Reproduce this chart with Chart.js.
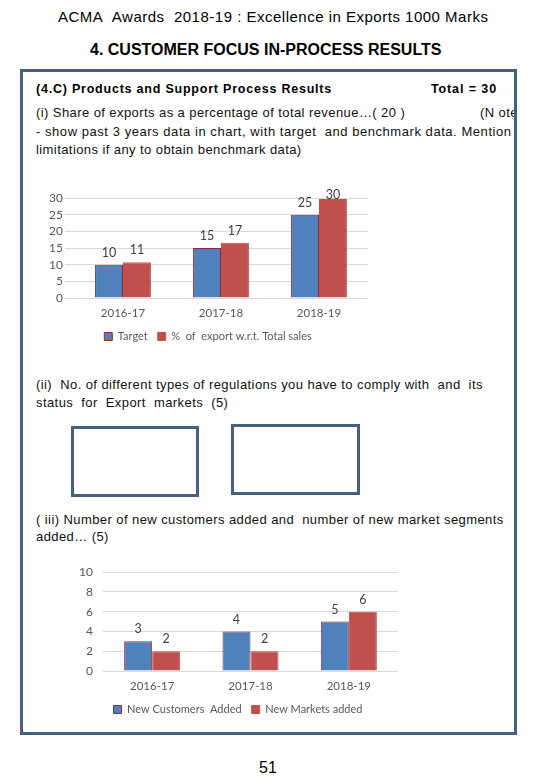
<!DOCTYPE html>
<html>
<head>
<meta charset="utf-8">
<script src="https://cdn.jsdelivr.net/npm/chart.js@4.4.0/dist/chart.umd.min.js"></script>
<style>
  html, body { margin: 0; padding: 0; background: #fff; }
  body { width: 540px; height: 780px; position: relative; overflow: hidden;
         font-family: "Liberation Sans", Arial, sans-serif; color: #000; }
  .t { position: absolute; white-space: nowrap; line-height: 1; }
  .p { font-size: 13px; letter-spacing: 0.42px; color: #111; }
  .box { position: absolute; border: 3px solid #46607f; box-sizing: border-box; }
  .cv { position: absolute; }
</style>
</head>
<body>
<div class="t" style="left:58px;top:9px;font-size:15px;letter-spacing:0.5px;">ACMA&nbsp; Awards&nbsp; 2018-19 : Excellence in Exports 1000 Marks</div>
<div class="t" style="left:90px;top:42px;font-size:16px;font-weight:bold;">4. CUSTOMER FOCUS IN-PROCESS RESULTS</div>

<div class="t" style="left:36px;top:83px;font-size:12.5px;font-weight:bold;letter-spacing:0.78px;">(4.C) Products and Support Process Results</div>
<div class="t" style="right:43px;top:83px;font-size:12.5px;font-weight:bold;letter-spacing:0.9px;">Total = 30</div>

<div class="t p" style="left:36px;top:106px;">(i) Share of exports as a percentage of total revenue…( 20 )</div>
<div class="t p" style="left:480px;top:106px;">(N ote</div>
<div class="t p" style="left:36px;top:125px;letter-spacing:0.55px;">- show past 3 years data in chart, with target&nbsp; and benchmark data. Mention</div>
<div class="t p" style="left:36px;top:143px;">limitations if any to obtain benchmark data)</div>

<div class="box" style="left:20px;top:69px;width:497px;height:666px;"></div>

<canvas id="chart1" class="cv" style="left:30px;top:180px;"></canvas>

<div class="t p" style="left:36px;top:378px;">(ii)&nbsp; No. of different types of regulations you have to comply with&nbsp; and&nbsp; its</div>
<div class="t p" style="left:36px;top:396px;">status&nbsp; for&nbsp; Export&nbsp; markets&nbsp; (5)</div>

<div class="box" style="left:71px;top:426px;width:128px;height:71px;"></div>
<div class="box" style="left:231px;top:424px;width:129px;height:71px;"></div>

<div class="t p" style="left:36px;top:513px;">( iii) Number of new customers added and&nbsp; number of new market segments</div>
<div class="t p" style="left:36px;top:530px;">added… (5)</div>

<canvas id="chart2" class="cv" style="left:60px;top:555px;"></canvas>

<div class="t" style="left:259px;top:760px;font-size:16px;">51</div>

<script>
// shared categories
const years = ['2016-17', '2017-18', '2018-19'];

// chart (i): share of exports
const exportTarget = [10, 15, 25];
const exportShare = [10.7, 16.6, 29.7];
const exportTicks = [0, 5, 10, 15, 20, 25, 30];

// chart (iii): customers / markets
const newCustomers = [3, 4, 5];
const newMarkets = [2, 2, 6];
const countTicks = [0, 2, 4, 6, 8, 10];

const BLUE = '#4f81bd';
const RED = '#c0504d';
const EDGE = '#8c2a3a';
const GREY = '#595959';
const GRID = '#d9d9d9';
const FONT = 'Lato, "Open Sans", sans-serif';

Chart.defaults.font.family = FONT;
Chart.defaults.color = GREY;
Chart.defaults.animation = false;

// values printed above each bar (rounded like the source)
const barLabels = {
  id: 'barLabels',
  afterDatasetsDraw(chart) {
    const ctx = chart.ctx;
    ctx.save();
    ctx.font = '12.5px ' + FONT;
    ctx.fillStyle = '#404040';
    ctx.textAlign = 'center';
    ctx.textBaseline = 'middle';
    chart.data.datasets.forEach((ds, i) => {
      chart.getDatasetMeta(i).data.forEach((bar, j) => {
        const y = Math.max(bar.y - 12, chart.chartArea.top - 3);
        ctx.fillText(String(Math.round(ds.data[j])), bar.x, y);
      });
    });
    ctx.restore();
  }
};

function makeChart(id, w, h, sets, ticks, pad, axisW, tickLen) {
  const el = document.getElementById(id);
  el.width = w; el.height = h;
  el.style.width = w + 'px'; el.style.height = h + 'px';
  return new Chart(el, {
    type: 'bar',
    data: {
      labels: years,
      datasets: sets.map(s => ({
        label: s.label,
        data: s.data,
        backgroundColor: s.color,
        borderColor: s.edge,
        borderWidth: 1,
        categoryPercentage: 0.57,
        barPercentage: 1.0
      }))
    },
    options: {
      responsive: false,
      devicePixelRatio: 1,
      layout: { padding: pad },
      plugins: {
        tooltip: { enabled: false },
        legend: {
          position: 'bottom',
          labels: { boxWidth: 8, boxHeight: 8, padding: 10, font: { size: 11 }, color: GREY }
        }
      },
      scales: {
        x: {
          grid: { display: false, drawTicks: false },
          border: { display: false },
          ticks: { font: { size: 11.5 }, color: GREY, padding: 8 },
          afterFit: s => { s.height = 23; }
        },
        y: {
          min: ticks[0],
          max: ticks[ticks.length - 1],
          afterBuildTicks: s => { s.ticks = ticks.map(v => ({ value: v })); },
          grid: { color: GRID, tickColor: GRID, tickLength: tickLen, drawTicks: tickLen > 0 },
          border: { display: false },
          ticks: { font: { size: 12 }, color: GREY, padding: tickLen > 0 ? 2 : 10, autoSkip: false },
          afterFit: s => { s.width = axisW; }
        }
      }
    },
    plugins: [barLabels]
  });
}

makeChart('chart1', 350, 172, [
  { label: 'Target', data: exportTarget, color: BLUE, edge: EDGE },
  { label: '%  of  export w.r.t. Total sales', data: exportShare, color: RED, edge: RED }
], exportTicks, { left: 18, right: 12, top: 18, bottom: 0 }, 26, 9);

makeChart('chart2', 350, 170, [
  { label: 'New Customers  Added', data: newCustomers, color: BLUE, edge: EDGE },
  { label: 'New Markets added', data: newMarkets, color: RED, edge: RED }
], countTicks, { left: 18, right: 12, top: 15, bottom: 0 }, 25, 0);
</script>
</body>
</html>
